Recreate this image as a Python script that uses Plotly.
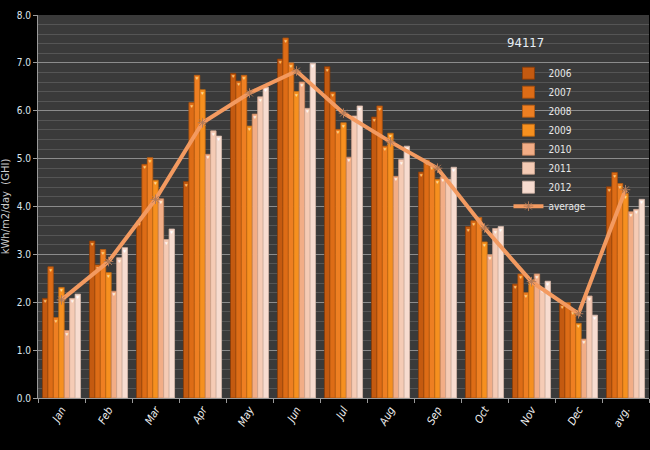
import plotly.graph_objects as go

categories = ["Jan", "Feb", "Mar", "Apr", "May", "Jun", "Jul", "Aug", "Sep", "Oct", "Nov", "Dec", "avg."]
years = ["2006", "2007", "2008", "2009", "2010", "2011", "2012"]

v2006 = [2.08, 3.28, 3.70, 4.52, 6.78, 7.08, 6.92, 5.87, 4.72, 3.58, 2.38, 1.96, 4.41]
v2007 = [2.74, 2.78, 4.88, 6.17, 6.62, 7.52, 6.39, 6.10, 4.97, 3.70, 2.59, 1.99, 4.71]
v2008 = [1.68, 3.10, 5.02, 6.74, 6.74, 7.00, 5.61, 5.26, 4.86, 3.77, 2.20, 1.84, 4.48]
v2009 = [2.31, 2.62, 4.55, 6.44, 5.68, 6.40, 5.75, 5.53, 4.57, 3.26, 2.46, 1.56, 4.27]
v2010 = [1.41, 2.23, 4.16, 5.09, 5.93, 6.60, 5.03, 4.63, 4.62, 2.99, 2.59, 1.23, 3.89]
v2011 = [2.08, 2.93, 3.31, 5.58, 6.29, 6.05, 5.89, 4.98, 4.57, 3.54, 2.29, 2.13, 3.94]
v2012 = [2.17, 3.14, 3.53, 5.47, 6.49, 6.99, 6.10, 5.26, 4.82, 3.58, 2.44, 1.73, 4.15]
average = [2.05, 2.85, 4.15, 5.75, 6.37, 6.83, 5.95, 5.35, 4.80, 3.55, 2.43, 1.76, 4.35]

series = [v2006, v2007, v2008, v2009, v2010, v2011, v2012]
colors = ["#c45a10", "#dd6c16", "#ee7f22", "#f6901f", "#f2ad86", "#f5cbb5", "#f7dcd0"]
edges = ["#8a3c06", "#a44e0c", "#b85d12", "#c06a10", "#c88660", "#cfa690", "#d4b8aa"]
caps = ["#ffc070", "#ffc878", "#ffd080", "#ffd890", "#fff0e0", "#fff6f0", "#ffffff"]

fig = go.Figure()
for name, vals, c, e, cap in zip(years, series, colors, edges, caps):
    fig.add_trace(go.Bar(
        x=categories, y=vals, name=name,
        marker=dict(color=c, line=dict(color=e, width=0.8)),
        text=["▼"] * len(vals), textposition="inside", insidetextanchor="end",
        textangle=0, textfont=dict(size=5, color=cap), hoverinfo="x+y+name",
    ))

fig.add_trace(go.Scatter(
    x=categories, y=average, name="average", mode="lines+markers",
    line=dict(color="#f39a60", width=4),
    marker=dict(symbol="asterisk-open", size=8, color="#b07a58", line=dict(color="#b07a58", width=1)),
))

font_narrow = "DejaVu Sans Condensed, Liberation Sans Narrow, Arial Narrow, Liberation Sans, Arial"

fig.update_layout(
    width=650, height=450,
    margin=dict(l=38, r=1, t=15, b=52),
    paper_bgcolor="#000000",
    plot_bgcolor="#3a3a3a",
    barmode="group",
    bargap=0.19,
    bargroupgap=0,
    uniformtext=dict(minsize=4, mode="show"),
    showlegend=True,
    legend=dict(
        x=0.77, y=0.886, xanchor="left", yanchor="top",
        bgcolor="rgba(0,0,0,0)",
        font=dict(family=font_narrow, size=10, color="#e8e8e8"),
        itemwidth=30,
        tracegroupgap=0,
    ),
    annotations=[dict(
        x=0.764, y=0.928, xref="paper", yref="paper",
        text="94117", showarrow=False, xanchor="left", yanchor="middle",
        font=dict(family=font_narrow, size=13, color="#e6eef5"),
    )],
)

fig.update_yaxes(
    range=[0, 8], dtick=1, tickformat=".1f",
    showgrid=True, gridcolor="#8c8c8c", gridwidth=1,
    minor=dict(dtick=0.2, showgrid=True, gridcolor="#555555", gridwidth=1),
    showline=True, linecolor="#9a9a9a", linewidth=1,
    ticks="outside", ticklen=4, tickcolor="#9a9a9a",
    tickfont=dict(family=font_narrow, size=10, color="#dde6ee"),
    title=dict(text="kWh/m2/day  (GHI)", font=dict(family="DejaVu Sans, Liberation Sans, Arial", size=10, color="#cccccc"), standoff=8),
    zeroline=False,
    automargin=False,
)
fig.update_xaxes(
    type="category",
    range=[-0.5, len(categories) - 0.5],
    showline=True, linecolor="#9a9a9a", linewidth=1,
    ticks="outside", ticklen=4, tickcolor="#9a9a9a", tickson="boundaries",
    tickangle=-60,
    tickfont=dict(family=font_narrow, size=11, color="#eeeeee", style="italic"),
    showgrid=False,
    automargin=False,
)

fig.write_html(
    "out.html",
    config={"displayModeBar": False},
    post_script="document.body.style.margin='0';document.body.style.background='#000';",
)
